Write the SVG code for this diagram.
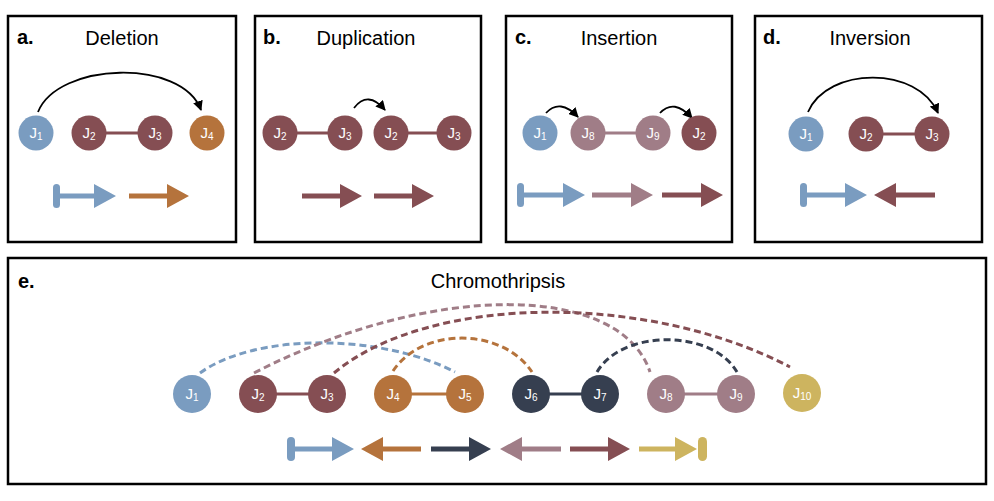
<svg xmlns="http://www.w3.org/2000/svg" width="994" height="501" viewBox="0 0 994 501">
<defs>
<marker id="ah" viewBox="0 0 10 10" refX="9" refY="5" markerWidth="10" markerHeight="10" markerUnits="userSpaceOnUse" orient="auto">
<path d="M0,0 L10,5 L0,10 z" fill="#000"/>
</marker>
</defs>
<style>
.box{fill:#fff;stroke:#000;stroke-width:2.5}
.lbl{font-family:"Liberation Sans",Arial,sans-serif;font-size:20px;font-weight:bold;fill:#000}
.ttl{font-family:"Liberation Sans",Arial,sans-serif;font-size:20px;fill:#000;text-anchor:middle}
.jt{font-family:"Liberation Sans",Arial,sans-serif;font-size:15px;fill:#fff;text-anchor:middle}
.sub{font-size:10px}
.arc{fill:none;stroke:#000;stroke-width:1.8;marker-end:url(#ah)}
.dash{fill:none;stroke-width:3;stroke-dasharray:7 4}
.link{stroke-width:3}
.blue{fill:#7a9cc0}.red{fill:#854e53}.orange{fill:#b5733c}.navy{fill:#363f50}.mauve{fill:#a07d87}.yellow{fill:#cdb45f}
.sblue{stroke:#7a9cc0}.sred{stroke:#854e53}.sorange{stroke:#b5733c}.snavy{stroke:#363f50}.smauve{stroke:#a07d87}.syellow{stroke:#cdb45f}
</style>
<rect width="994" height="501" fill="#fff"/>
<!-- frames -->
<rect class="box" x="8" y="16" width="228" height="226"/>
<rect class="box" x="255" y="16" width="226" height="226"/>
<rect class="box" x="506" y="16" width="226" height="226"/>
<rect class="box" x="755" y="16" width="227" height="226"/>
<rect class="box" x="8" y="258" width="978" height="226"/>
<text class="lbl" x="17" y="44">a.</text>
<text class="ttl" x="122" y="45">Deletion</text>
<text class="lbl" x="263" y="44">b.</text>
<text class="ttl" x="366" y="45">Duplication</text>
<text class="lbl" x="515" y="44">c.</text>
<text class="ttl" x="619" y="45">Insertion</text>
<text class="lbl" x="763" y="44">d.</text>
<text class="ttl" x="870" y="45">Inversion</text>
<text class="lbl" x="18" y="288">e.</text>
<text class="ttl" x="498" y="288">Chromothripsis</text>

<g id="connectors">
<!-- a -->
<line class="link sred" x1="89" y1="133" x2="155" y2="133"/>
<path class="arc" d="M38,112 C58,62 182,58 201,110"/>
<!-- b -->
<line class="link sred" x1="280" y1="133" x2="345" y2="133"/>
<line class="link sred" x1="391" y1="133" x2="454" y2="133"/>
<path class="arc" d="M354,108 Q368,90 385,110"/>
<!-- c -->
<line class="link smauve" x1="588" y1="133" x2="653" y2="133"/>
<path class="arc" d="M546,113 Q560,98 578,117"/>
<path class="arc" d="M660,113 Q674,98 692,118"/>
<!-- d -->
<line class="link sred" x1="866" y1="134" x2="932" y2="134"/>
<path class="arc" d="M808,112 C828,66 918,66 938,113"/>
<!-- e -->
<line class="link sred" x1="258" y1="394" x2="327" y2="394"/>
<line class="link sorange" x1="393" y1="394" x2="465" y2="394"/>
<line class="link snavy" x1="531" y1="394" x2="600" y2="394"/>
<line class="link smauve" x1="666" y1="394" x2="736" y2="394"/>
<path class="dash sblue" d="M200,373 C255,333 380,333 455,372"/>
<path class="dash smauve" d="M254,373 C430,282 620,282 650,372"/>
<path class="dash sred" d="M334,373 C430,293 650,293 790,367"/>
<path class="dash sorange" d="M393,371 C422,327 502,327 532,372"/>
<path class="dash snavy" d="M597,372 C622,329 712,329 737,372"/>
<!-- orientation arrows -->
<rect class="blue" x="53" y="184" width="7" height="24" rx="3.5"/>
<path class="blue" d="M56,193.5 H94 V184 L116,196 L94,208 V198.5 H56 Z"/>
<path class="orange" d="M129,193.5 H167 V184 L189,196 L167,208 V198.5 H129 Z"/>
<path class="red" d="M302,193.5 H340 V184 L362,196 L340,208 V198.5 H302 Z"/>
<path class="red" d="M374,193.5 H412 V184 L434,196 L412,208 V198.5 H374 Z"/>
<rect class="blue" x="517" y="183" width="7" height="24" rx="3.5"/>
<path class="blue" d="M520,192.5 H563 V183 L585,195 L563,207 V197.5 H520 Z"/>
<path class="mauve" d="M592,192.5 H631 V183 L653,195 L631,207 V197.5 H592 Z"/>
<path class="red" d="M662,192.5 H701 V183 L723,195 L701,207 V197.5 H662 Z"/>
<rect class="blue" x="800" y="183" width="7" height="24" rx="3.5"/>
<path class="blue" d="M803,192.5 H845 V183 L867,195 L845,207 V197.5 H803 Z"/>
<path class="red" d="M935,192.5 H896 V183 L874,195 L896,207 V197.5 H935 Z"/>
<rect class="blue" x="287" y="437" width="8" height="24" rx="4"/>
<path class="blue" d="M291,446.5 H332 V437 L354,449 L332,461 V451.5 H291 Z"/>
<path class="orange" d="M421,446.5 H383 V437 L361,449 L383,461 V451.5 H421 Z"/>
<path class="navy" d="M431,446.5 H469 V437 L491,449 L469,461 V451.5 H431 Z"/>
<path class="mauve" d="M561,446.5 H522 V437 L500,449 L522,461 V451.5 H561 Z"/>
<path class="red" d="M570,446.5 H608 V437 L630,449 L608,461 V451.5 H570 Z"/>
<path class="yellow" d="M639,446.5 H675 V437 L697,449 L675,461 V451.5 H639 Z"/>
<rect class="yellow" x="698" y="437" width="9" height="24" rx="4.5"/>
</g>

<!-- panel a nodes -->
<g id="a-J1"><circle class="blue" cx="36" cy="133" r="17.5"/><text class="jt" x="36" y="138">J<tspan class="sub" dy="2">1</tspan></text></g>
<g id="a-J2"><circle class="red" cx="89" cy="133" r="17.5"/><text class="jt" x="89" y="138">J<tspan class="sub" dy="2">2</tspan></text></g>
<g id="a-J3"><circle class="red" cx="155" cy="133" r="17.5"/><text class="jt" x="155" y="138">J<tspan class="sub" dy="2">3</tspan></text></g>
<g id="a-J4"><circle class="orange" cx="207" cy="133" r="17.5"/><text class="jt" x="207" y="138">J<tspan class="sub" dy="2">4</tspan></text></g>
<!-- panel b nodes -->
<g id="b-J2a"><circle class="red" cx="280" cy="133" r="17.5"/><text class="jt" x="280" y="138">J<tspan class="sub" dy="2">2</tspan></text></g>
<g id="b-J3a"><circle class="red" cx="345" cy="133" r="17.5"/><text class="jt" x="345" y="138">J<tspan class="sub" dy="2">3</tspan></text></g>
<g id="b-J2b"><circle class="red" cx="391" cy="133" r="17.5"/><text class="jt" x="391" y="138">J<tspan class="sub" dy="2">2</tspan></text></g>
<g id="b-J3b"><circle class="red" cx="454" cy="133" r="17.5"/><text class="jt" x="454" y="138">J<tspan class="sub" dy="2">3</tspan></text></g>
<!-- panel c nodes -->
<g id="c-J1"><circle class="blue" cx="540" cy="133" r="17.5"/><text class="jt" x="540" y="138">J<tspan class="sub" dy="2">1</tspan></text></g>
<g id="c-J8"><circle class="mauve" cx="588" cy="133" r="17.5"/><text class="jt" x="588" y="138">J<tspan class="sub" dy="2">8</tspan></text></g>
<g id="c-J9"><circle class="mauve" cx="653" cy="133" r="17.5"/><text class="jt" x="653" y="138">J<tspan class="sub" dy="2">9</tspan></text></g>
<g id="c-J2"><circle class="red" cx="699" cy="133" r="17.5"/><text class="jt" x="699" y="138">J<tspan class="sub" dy="2">2</tspan></text></g>
<!-- panel d nodes -->
<g id="d-J1"><circle class="blue" cx="806" cy="134" r="17.5"/><text class="jt" x="806" y="139">J<tspan class="sub" dy="2">1</tspan></text></g>
<g id="d-J2"><circle class="red" cx="866" cy="134" r="17.5"/><text class="jt" x="866" y="139">J<tspan class="sub" dy="2">2</tspan></text></g>
<g id="d-J3"><circle class="red" cx="932" cy="134" r="17.5"/><text class="jt" x="932" y="139">J<tspan class="sub" dy="2">3</tspan></text></g>
<!-- panel e nodes -->
<g id="e-J1"><circle class="blue" cx="192" cy="394" r="19"/><text class="jt" x="192" y="399">J<tspan class="sub" dy="2">1</tspan></text></g>
<g id="e-J2"><circle class="red" cx="258" cy="394" r="19"/><text class="jt" x="258" y="399">J<tspan class="sub" dy="2">2</tspan></text></g>
<g id="e-J3"><circle class="red" cx="327" cy="394" r="19"/><text class="jt" x="327" y="399">J<tspan class="sub" dy="2">3</tspan></text></g>
<g id="e-J4"><circle class="orange" cx="393" cy="394" r="19"/><text class="jt" x="393" y="399">J<tspan class="sub" dy="2">4</tspan></text></g>
<g id="e-J5"><circle class="orange" cx="465" cy="394" r="19"/><text class="jt" x="465" y="399">J<tspan class="sub" dy="2">5</tspan></text></g>
<g id="e-J6"><circle class="navy" cx="531" cy="394" r="19"/><text class="jt" x="531" y="399">J<tspan class="sub" dy="2">6</tspan></text></g>
<g id="e-J7"><circle class="navy" cx="600" cy="394" r="19"/><text class="jt" x="600" y="399">J<tspan class="sub" dy="2">7</tspan></text></g>
<g id="e-J8"><circle class="mauve" cx="666" cy="394" r="19"/><text class="jt" x="666" y="399">J<tspan class="sub" dy="2">8</tspan></text></g>
<g id="e-J9"><circle class="mauve" cx="736" cy="394" r="19"/><text class="jt" x="736" y="399">J<tspan class="sub" dy="2">9</tspan></text></g>
<g id="e-J10"><circle class="yellow" cx="802" cy="393" r="19"/><text class="jt" x="802" y="398">J<tspan class="sub" dy="2">10</tspan></text></g>
</svg>
